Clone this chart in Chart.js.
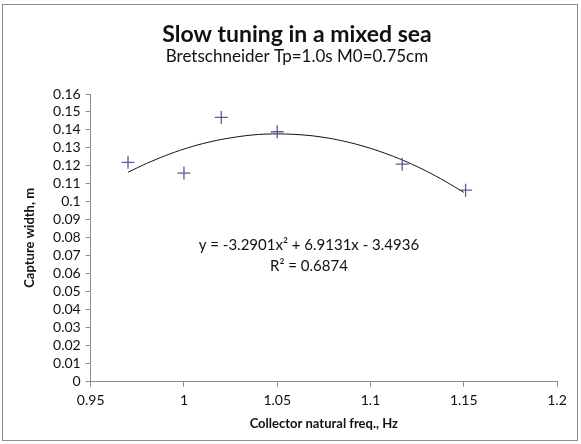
<!DOCTYPE html>
<html>
<head>
<meta charset="utf-8">
<script src="https://cdn.jsdelivr.net/npm/chart.js@4.4.1/dist/chart.umd.min.js"></script>
<style>
  html, body { margin: 0; padding: 0; background: #fff; overflow: hidden; }
  #grafico { position: absolute; left: 0; top: 0; }
</style>
</head>
<body>
<canvas id="grafico" width="581" height="444"></canvas>
<script>
// measured points (collector natural freq. vs capture width)
const freqs = [0.97, 1.0, 1.02, 1.05, 1.117, 1.151];
const widths = [0.122, 0.116, 0.147, 0.139, 0.121, 0.1065];

// polynomial trendline
const trendFreqs = [0.97, 0.98, 0.99, 1.0, 1.01, 1.02, 1.03, 1.04, 1.05, 1.06,
                    1.07, 1.08, 1.09, 1.1, 1.11, 1.12, 1.13, 1.14, 1.15];
const trendWidths = [0.1165, 0.1214, 0.1257, 0.1294, 0.1324, 0.1347, 0.1364, 0.1375, 0.1378, 0.1375,
                     0.1366, 0.1350, 0.1327, 0.1298, 0.1262, 0.1220, 0.1171, 0.1115, 0.1053];

const xTickLabels = ['0.95', '1', '1.05', '1.1', '1.15', '1.2'];
const yTickLabels = ['0', '0.01', '0.02', '0.03', '0.04', '0.05', '0.06', '0.07', '0.08',
                     '0.09', '0.1', '0.11', '0.12', '0.13', '0.14', '0.15', '0.16'];

const trendText = ['y = -3.2901x\u00B2 + 6.9131x - 3.4936', 'R\u00B2 = 0.6874'];

window.addEventListener("load", () => {

    const fam = 'Lato, "Open Sans", sans-serif';
    const ctx = document.querySelector('#grafico').getContext('2d');

    // frame round the whole chart + the trendline equation
    const extras = {
        id: 'extras',
        beforeDraw(chart) {
            const c = chart.ctx;
            c.save();
            c.fillStyle = '#fff';
            c.fillRect(0, 0, chart.width, chart.height);
            c.strokeStyle = '#8c8c8c';
            c.lineWidth = 1;
            c.strokeRect(2.5, 4.5, 575, 436);
            c.restore();
        },
        afterDatasetsDraw(chart) {
            const c = chart.ctx;
            const xs = chart.scales.x, ys = chart.scales.y;
            c.save();
            c.fillStyle = '#111';
            c.font = '15px ' + fam;
            c.textAlign = 'center';
            c.textBaseline = 'middle';
            c.fillText(trendText[0], xs.getPixelForValue(1.067), ys.getPixelForValue(0.076));
            c.fillText(trendText[1], xs.getPixelForValue(1.067), ys.getPixelForValue(0.064));
            c.restore();
        }
    };

    const grafico = new Chart(ctx, {
        type: 'scatter',
        data: {
            datasets: [{
                label: 'Capture width',
                data: freqs.map((f, i) => ({x: f, y: widths[i]})),
                pointStyle: 'cross',
                pointRadius: 6.5,
                pointHoverRadius: 6.5,
                pointBorderWidth: 1.3,
                borderColor: '#5a5a9c',
                backgroundColor: '#5a5a9c',
                showLine: false
            }, {
                label: 'Poly. trend',
                data: trendFreqs.map((f, i) => ({x: f, y: trendWidths[i]})),
                showLine: true,
                pointRadius: 0,
                borderColor: '#111',
                borderWidth: 1,
                tension: 0.3
            }]
        },
        options: {
            responsive: false,
            animation: false,
            devicePixelRatio: 1,
            layout: { padding: { top: 4, left: 13, right: 0, bottom: 0 } },
            plugins: {
                legend: { display: false },
                tooltip: { enabled: false },
                title: {
                    display: true,
                    text: 'Slow tuning in a mixed sea',
                    color: '#111',
                    font: { family: fam, size: 23, weight: 'bold' },
                    padding: { top: 17, bottom: 0 }
                },
                subtitle: {
                    display: true,
                    text: 'Bretschneider Tp=1.0s M0=0.75cm',
                    color: '#111',
                    font: { family: fam, size: 17 },
                    padding: { top: -2, bottom: 27 }
                }
            },
            scales: {
                x: {
                    type: 'linear',
                    min: 0.95,
                    max: 1.2,
                    afterFit: (s) => { s.height = 62.3; s.paddingRight = 24; s.paddingLeft = 0; },
                    ticks: {
                        stepSize: 0.05,
                        autoSkip: false,
                        color: '#111',
                        font: { family: fam, size: 14 },
                        padding: 5,
                        callback: (v, i) => xTickLabels[i]
                    },
                    grid: { drawOnChartArea: false, drawTicks: true, tickLength: 5, color: '#8c8c8c' },
                    border: { color: '#8c8c8c' },
                    title: {
                        display: true,
                        text: 'Collector natural freq., Hz',
                        color: '#111',
                        font: { family: fam, size: 13, weight: 'bold' },
                        padding: { top: 0, bottom: 12.2 }
                    }
                },
                y: {
                    min: 0,
                    max: 0.16,
                    afterFit: (s) => { s.width = 77.7; },
                    ticks: {
                        stepSize: 0.01,
                        autoSkip: false,
                        color: '#111',
                        font: { family: fam, size: 14 },
                        padding: 5,
                        callback: (v, i) => yTickLabels[i]
                    },
                    grid: { drawOnChartArea: false, drawTicks: true, tickLength: 5, color: '#8c8c8c' },
                    border: { color: '#8c8c8c' },
                    title: {
                        display: true,
                        text: 'Capture width, m',
                        color: '#111',
                        font: { family: fam, size: 13, weight: 'bold' },
                        padding: { top: 9.2, bottom: 0 }
                    }
                }
            }
        },
        plugins: [extras]
    });

    console.log(grafico.chartArea);
});
</script>
</body>
</html>
